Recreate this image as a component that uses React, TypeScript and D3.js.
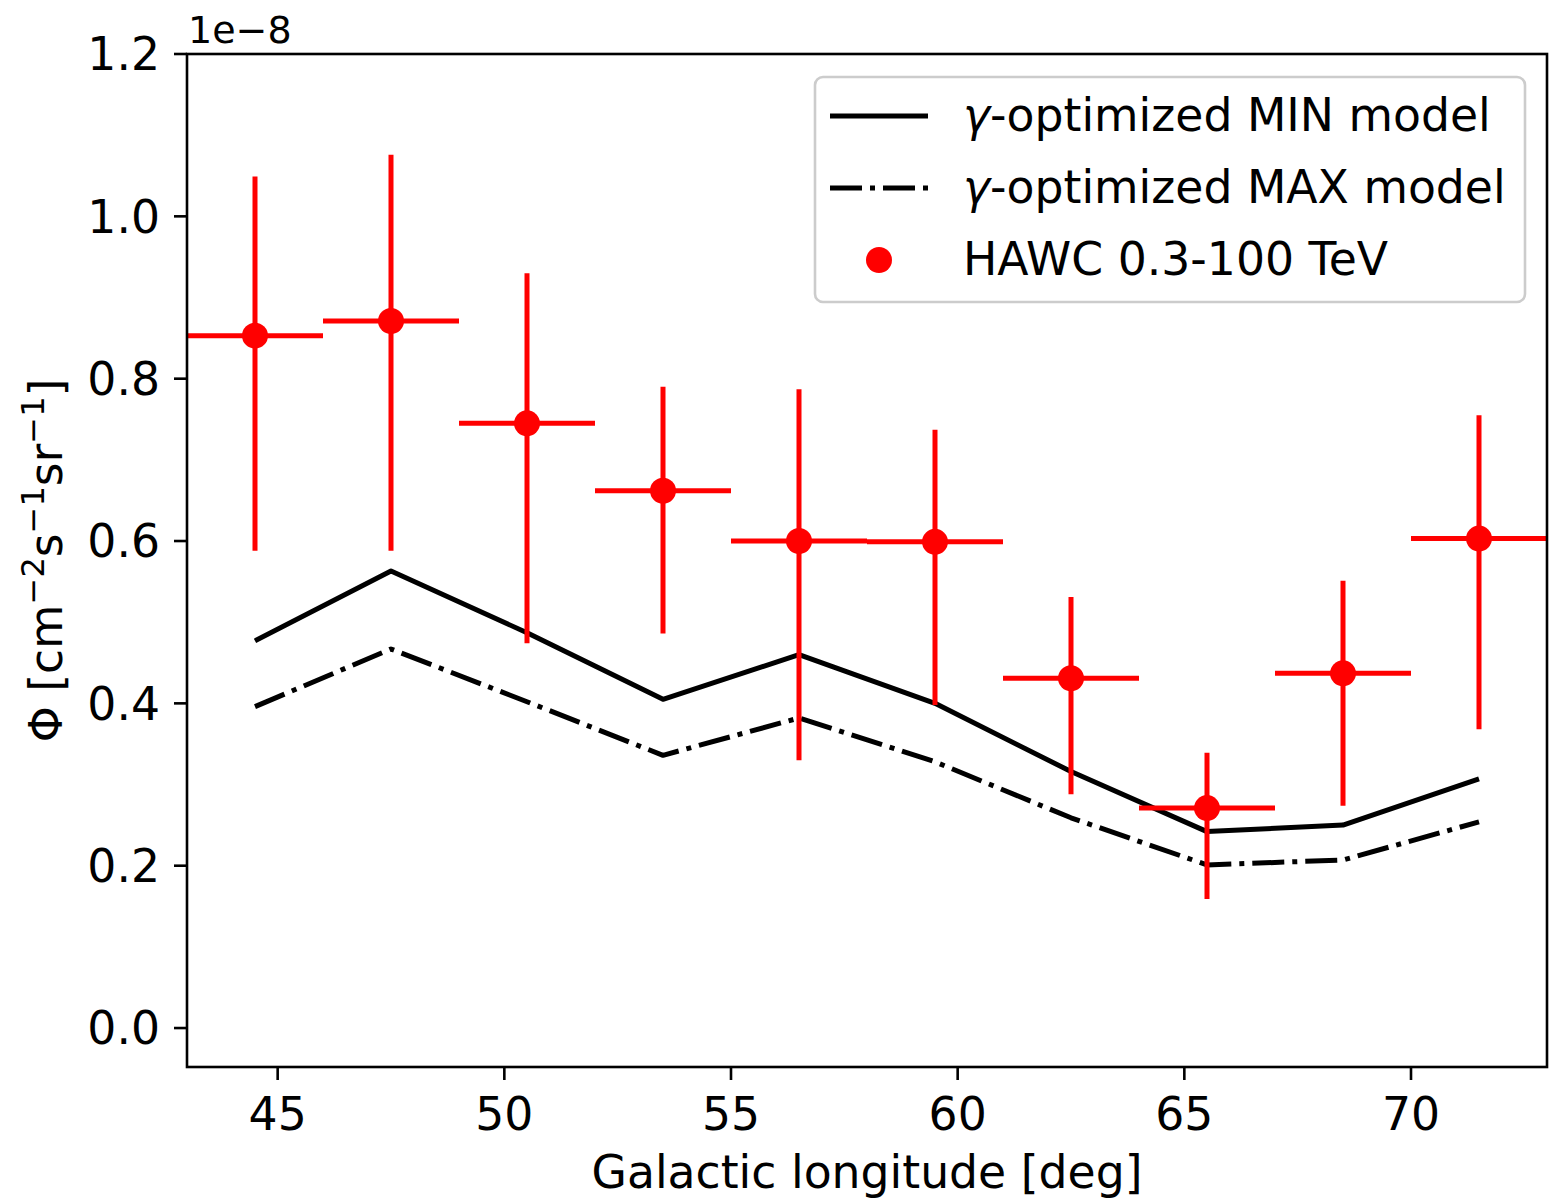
import React from "react";
import * as d3 from "d3";

const xs = [44.5, 47.5, 50.5, 53.5, 56.5, 59.5, 62.5, 65.5, 68.5, 71.5];
const hawc = [0.853, 0.871, 0.745, 0.662, 0.6, 0.599, 0.431, 0.271, 0.437, 0.603];
const hawcUp = [1.049, 1.076, 0.93, 0.79, 0.787, 0.737, 0.531, 0.339, 0.551, 0.755];
const hawcLo = [0.588, 0.588, 0.474, 0.486, 0.33, 0.398, 0.288, 0.159, 0.274, 0.368];
const xErr = 1.5;
const minModel = [0.477, 0.563, 0.487, 0.405, 0.46, 0.4, 0.316, 0.242, 0.25, 0.307];
const maxModel = [0.396, 0.467, 0.402, 0.336, 0.382, 0.328, 0.259, 0.201, 0.207, 0.254];
const xTicks = [45, 50, 55, 60, 65, 70];
const yTicks = [0.0, 0.2, 0.4, 0.6, 0.8, 1.0, 1.2];

const W = 1549;
const H = 1204;
const L = 187, R = 1547, T = 54, B = 1067;
const FONT = "'DejaVu Sans', sans-serif";
const FS = 45.7;
const LW = 5;

export default function App() {
  const x = d3.scaleLinear().domain([43, 73]).range([L, R]);
  const y = d3.scaleLinear().domain([-0.048, 1.2]).range([B, T]);
  const line = d3.line<number>().x((_, i) => x(xs[i])).y((d) => y(d));
  const dashdot = `${6.4 * LW} ${1.6 * LW} ${1 * LW} ${1.6 * LW}`;

  return (
    <svg width={W} height={H} style={{ position: "absolute", left: 0, top: 0, background: "#fff" }} fontFamily={FONT}>
      <defs>
        <clipPath id="plotclip">
          <rect x={L} y={T} width={R - L} height={B - T} />
        </clipPath>
      </defs>
      <rect x={0} y={0} width={W} height={H} fill="#fff" />
      <g clipPath="url(#plotclip)">
        <path d={line(minModel) || ""} fill="none" stroke="#000" strokeWidth={LW} strokeLinejoin="round" />
        <path d={line(maxModel) || ""} fill="none" stroke="#000" strokeWidth={LW} strokeDasharray={dashdot} strokeLinejoin="round" />
        {xs.map((xv, i) => (
          <g key={i}>
            <line x1={x(xv - xErr)} x2={x(xv + xErr)} y1={y(hawc[i])} y2={y(hawc[i])} stroke="#ff0000" strokeWidth={LW} />
            <line x1={x(xv)} x2={x(xv)} y1={y(hawcLo[i])} y2={y(hawcUp[i])} stroke="#ff0000" strokeWidth={LW} />
            <circle cx={x(xv)} cy={y(hawc[i])} r={13} fill="#ff0000" />
          </g>
        ))}
      </g>
      {/* spines */}
      <rect x={L} y={T} width={R - L} height={B - T} fill="none" stroke="#000" strokeWidth={2.6} />
      {/* x ticks */}
      {xTicks.map((t) => (
        <g key={t}>
          <line x1={x(t)} x2={x(t)} y1={B} y2={B + 13} stroke="#000" strokeWidth={2.6} />
          <text x={x(t)} y={1130} fontSize={FS} textAnchor="middle" fill="#000">{t}</text>
        </g>
      ))}
      {yTicks.map((t) => (
        <g key={t}>
          <line x1={L - 13} x2={L} y1={y(t)} y2={y(t)} stroke="#000" strokeWidth={2.6} />
          <text x={160} y={y(t)} dy="0.36em" fontSize={FS} textAnchor="end" fill="#000">{t.toFixed(1)}</text>
        </g>
      ))}
      <text x={188} y={43} fontSize={38} fill="#000">1e−8</text>
      <text x={(L + R) / 2} y={1188} fontSize={FS} textAnchor="middle" fill="#000">Galactic longitude [deg]</text>
      <text transform={`translate(62, ${(T + B) / 2}) rotate(-90)`} fontSize={FS} textAnchor="middle" fill="#000">
        <tspan>Φ [cm</tspan>
        <tspan fontSize={FS * 0.7} dy={-18}>−2</tspan>
        <tspan dy={18}>s</tspan>
        <tspan fontSize={FS * 0.7} dy={-18}>−1</tspan>
        <tspan dy={18}>sr</tspan>
        <tspan fontSize={FS * 0.7} dy={-18}>−1</tspan>
        <tspan dy={18}>]</tspan>
      </text>
      {/* legend */}
      <rect x={815} y={77} width={710} height={225} rx={8} ry={8} fill="#fff" fillOpacity={0.8} stroke="#cccccc" strokeWidth={2.6} />
      <line x1={830} x2={928} y1={116} y2={116} stroke="#000" strokeWidth={LW} />
      <line x1={830} x2={928} y1={188} y2={188} stroke="#000" strokeWidth={LW} strokeDasharray={dashdot} />
      <circle cx={879} cy={260} r={13} fill="#ff0000" />
      <text x={963} y={131} fontSize={FS} fill="#000">
        <tspan fontStyle="oblique">γ</tspan>
        <tspan>-optimized MIN model</tspan>
      </text>
      <text x={963} y={203} fontSize={FS} fill="#000">
        <tspan fontStyle="oblique">γ</tspan>
        <tspan>-optimized MAX model</tspan>
      </text>
      <text x={963} y={275} fontSize={FS} fill="#000">HAWC 0.3-100 TeV</text>
    </svg>
  );
}
